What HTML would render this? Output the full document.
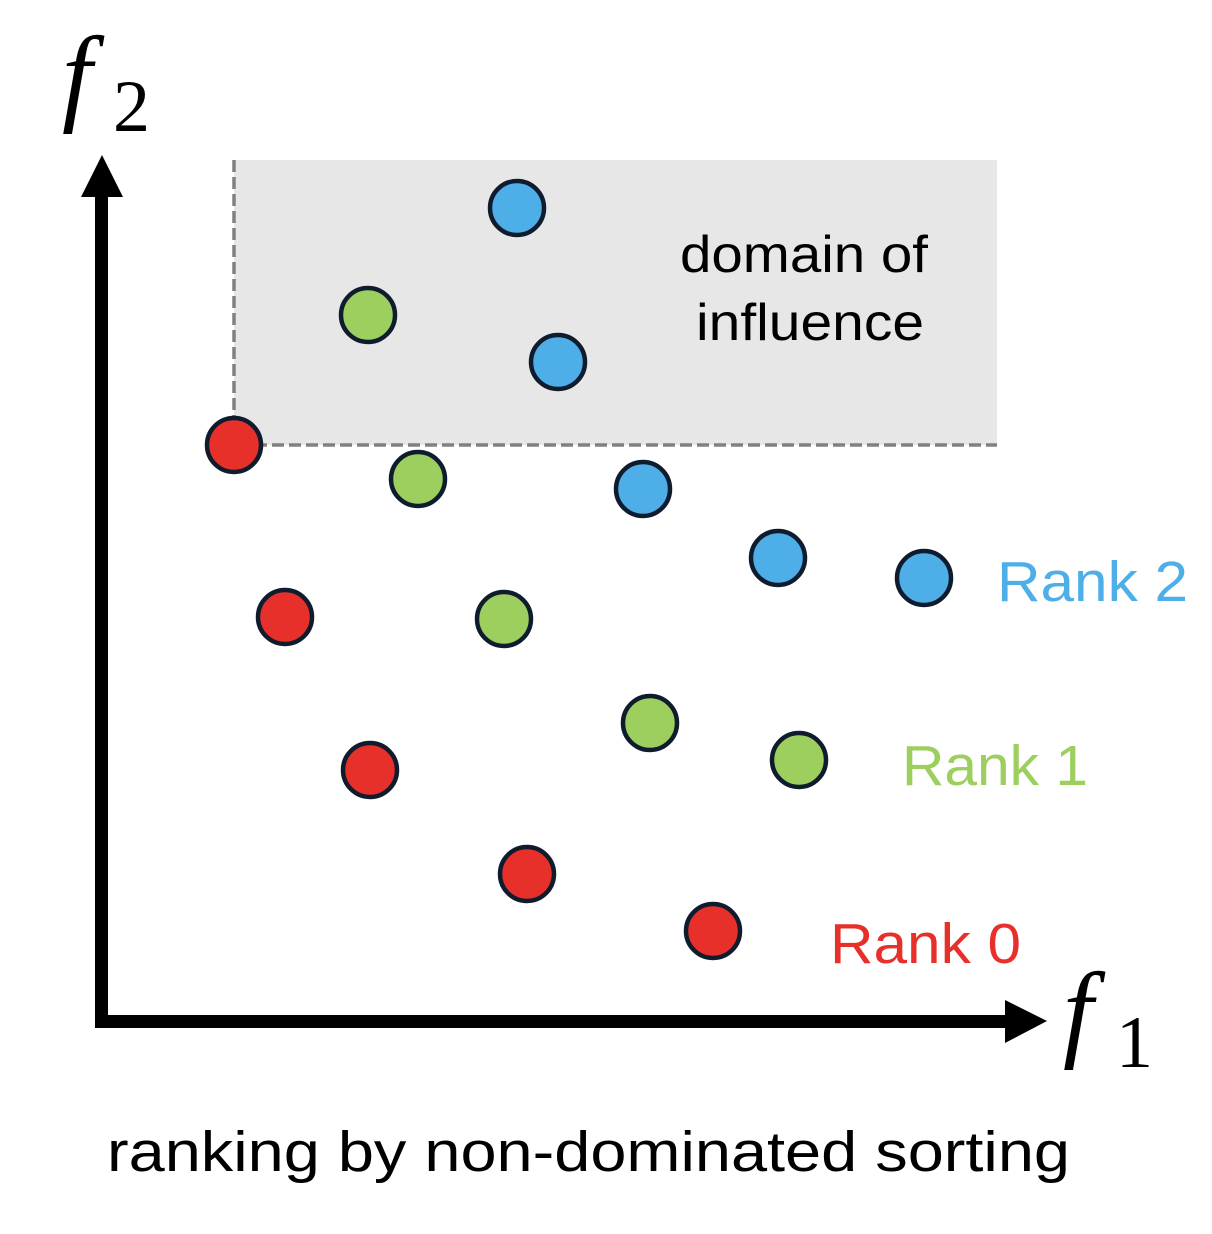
<!DOCTYPE html>
<html><head><meta charset="utf-8"><style>html,body{margin:0;padding:0;background:#fff}svg{display:block}</style></head>
<body>
<svg width="1212" height="1234" viewBox="0 0 1212 1234" xmlns="http://www.w3.org/2000/svg">
<rect x="234" y="160" width="763" height="285" fill="#e7e7e7"/>
<path d="M234 160 V445 H997" fill="none" stroke="#808080" stroke-width="3.5" stroke-dasharray="12,5"/>
<rect x="95" y="190" width="13" height="837" fill="#000"/>
<polygon points="81,197 123,197 102,155" fill="#000"/>
<rect x="95" y="1015" width="915" height="13" fill="#000"/>
<polygon points="1005,1000 1005,1043 1047,1021" fill="#000"/>
<text x="62" y="111" font-family="Liberation Serif, serif" font-style="italic" font-size="108">f</text>
<text x="113" y="131" font-family="Liberation Serif, serif" font-size="74">2</text>
<text x="1063" y="1047" font-family="Liberation Serif, serif" font-style="italic" font-size="108">f</text>
<text x="1116" y="1067" font-family="Liberation Serif, serif" font-size="74">1</text>
<g font-family="Liberation Sans, sans-serif" font-size="52" fill="#000">
<text x="680" y="272" textLength="248" lengthAdjust="spacingAndGlyphs">domain of</text>
<text x="696" y="340" textLength="228" lengthAdjust="spacingAndGlyphs">influence</text>
</g>
<g font-family="Liberation Sans, sans-serif" font-size="57">
<text x="997" y="601" fill="#4eaee8" textLength="191" lengthAdjust="spacingAndGlyphs">Rank 2</text>
<text x="902" y="785" fill="#9dcf5f" textLength="186" lengthAdjust="spacingAndGlyphs">Rank 1</text>
<text x="830" y="963" fill="#e8302a" textLength="191" lengthAdjust="spacingAndGlyphs">Rank 0</text>
<text x="107" y="1171" fill="#000" textLength="963" lengthAdjust="spacingAndGlyphs">ranking by non-dominated sorting</text>
</g>
<g stroke="#0f1c2e" stroke-width="4.5">
<g fill="#4eaee8">
<circle cx="517" cy="208" r="27"/><circle cx="558" cy="362" r="27"/><circle cx="643" cy="489" r="27"/><circle cx="778" cy="558" r="27"/><circle cx="924" cy="578" r="27"/>
</g>
<g fill="#9dcf5f">
<circle cx="368" cy="315" r="27"/><circle cx="418" cy="479" r="27"/><circle cx="504" cy="619" r="27"/><circle cx="650" cy="723" r="27"/><circle cx="799" cy="760" r="27"/>
</g>
<g fill="#e8302a">
<circle cx="234" cy="445" r="27"/><circle cx="285" cy="617" r="27"/><circle cx="370" cy="770" r="27"/><circle cx="527" cy="874" r="27"/><circle cx="713" cy="931" r="27"/>
</g>
</g>
</svg>
</body></html>
